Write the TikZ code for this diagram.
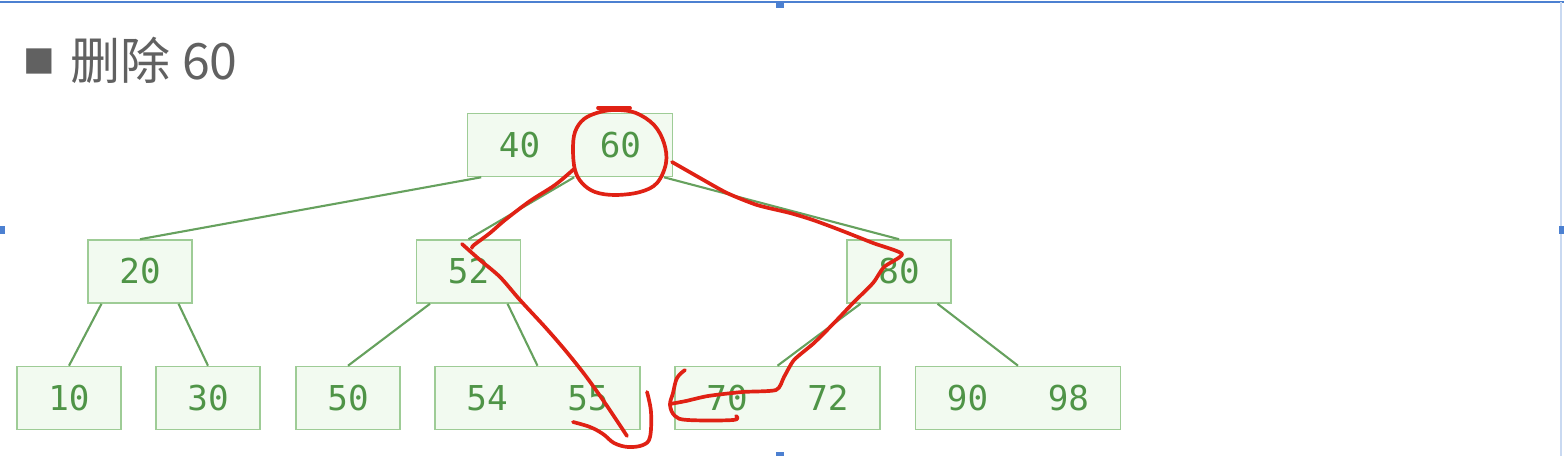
\documentclass[tikz,border=0pt]{standalone}
\usepackage{fontspec}
\usetikzlibrary{calc}
\newfontfamily\keyfont{DejaVu Sans Mono}
\newfontfamily\cjkfont{Noto Sans CJK SC}
\definecolor{KeyClr}{rgb}{0.31,0.58,0.28}
\definecolor{BoxClr}{rgb}{0.62,0.80,0.59}
\definecolor{BoxFill}{rgb}{0.95,0.98,0.94}
\definecolor{EdgeClr}{rgb}{0.40,0.63,0.37}
\definecolor{PenClr}{rgb}{0.88,0.13,0.08}
\definecolor{FrameClr}{rgb}{0.30,0.50,0.82}
\definecolor{TitleClr}{rgb}{0.38,0.38,0.38}

\begin{document}
\begin{tikzpicture}[x=0.02cm,y=-0.02cm,
  keybox/.style={draw=BoxClr,line width=0.9pt,fill=BoxFill,text=KeyClr,
    font=\keyfont\fontsize{19.5}{22}\selectfont,minimum height=1.26cm,
    inner sep=0pt},
  onekey/.style={keybox,minimum width=2.08cm},
  twokey/.style={keybox,minimum width=4.1cm},
  edge/.style={EdgeClr,line width=1.2pt},
  pen/.style={PenClr,line width=2.1pt,line cap=round,line join=round},
  handle/.style={fill=FrameClr,draw=none}]
\useasboundingbox (0,0) rectangle (1564,456);

% screen frame
\draw[FrameClr,line width=1.6pt] (0,2) -- (1564,2);
\draw[FrameClr!30,line width=0.8pt] (1561,2) -- (1561,456);
\fill[handle] (776,1) rectangle (784,8);
\fill[handle] (0,226) rectangle (5,234);
\fill[handle] (1559,226) rectangle (1564,234);
\fill[handle] (776,452) rectangle (784,456);

% title
\node[anchor=west,text=TitleClr,font=\cjkfont\fontsize{28.5}{30}\selectfont,inner sep=0pt]
  (title) at (23,60) {\raisebox{3pt}{\fontsize{18}{18}\selectfont ■}\hspace{9pt}删除 60};

% tree
\node[twokey] (root) at (570,145) {40\hspace{34pt}60};
\node[onekey] (n20) at (140,271.5) {20};
\node[onekey] (n52) at (468.5,271.5) {52};
\node[onekey] (n80) at (899,271.5) {80};
\node[onekey] (n10) at (69,398) {10};
\node[onekey] (n30) at (208,398) {30};
\node[onekey] (n50) at (348,398) {50};
\node[twokey] (n5455) at (537.5,398) {54\hspace{34pt}55};
\node[twokey] (n7072) at (777.5,398) {70\hspace{34pt}72};
\node[twokey] (n9098) at (1018,398) {90\hspace{34pt}98};

\draw[edge] ($(root.south west)!0.07!(root.south east)$) -- (n20.north);
\draw[edge] ($(root.south west)!0.52!(root.south east)$) -- (n52.north);
\draw[edge] ($(root.south west)!0.955!(root.south east)$) -- (n80.north);
\draw[edge] ($(n20.south west)!0.135!(n20.south east)$) -- (n10.north);
\draw[edge] ($(n20.south west)!0.865!(n20.south east)$) -- (n30.north);
\draw[edge] ($(n52.south west)!0.135!(n52.south east)$) -- (n50.north);
\draw[edge] ($(n52.south west)!0.87!(n52.south east)$) -- (n5455.north);
\draw[edge] ($(n80.south west)!0.135!(n80.south east)$) -- (n7072.north);
\draw[edge] ($(n80.south west)!0.865!(n80.south east)$) -- (n9098.north);

% hand marks
\draw[pen] (598,108) -- (630,108);
\draw[pen] plot[smooth cycle,tension=0.6] coordinates {(600,112) (584,119) (575,132) (573,150)
  (575,170) (582,183) (595,192) (615,195) (640,192) (657,183) (666,163) (664,143)
  (654,125) (636,113) (617,110)};
\draw[pen] plot[smooth,tension=0.5] coordinates {(574,169) (555,185) (530,201)
  (505,220) (490,233) (474,245) (472,248)};
\draw[pen] plot[smooth,tension=0.5] coordinates {(462,244) (480,260) (500,277)
  (520,300) (545,327) (565,350) (585,375) (605,403) (627,436)};
\draw[pen] plot[smooth,tension=0.6] coordinates {(573,422) (590,427) (603,434) (614,443)
  (628,447) (643,445) (650,437) (651,412) (647,392)};
\draw[pen] plot[smooth,tension=0.4] coordinates {(672,162) (700,178) (727,193)
  (757,205) (790,213) (813,220) (840,230) (873,243) (902,254) (884,267) (873,283)
  (853,303) (834,323) (814,343) (794,360) (784,377) (776,390) (742,392) (708,396)
  (686,401) (670,404)};
\draw[pen] plot[smooth,tension=0.6] coordinates {(685,370) (677,378) (673,393) (670,405)
  (675,416) (688,420) (733,420) (736,416)};
\end{tikzpicture}
\end{document}
